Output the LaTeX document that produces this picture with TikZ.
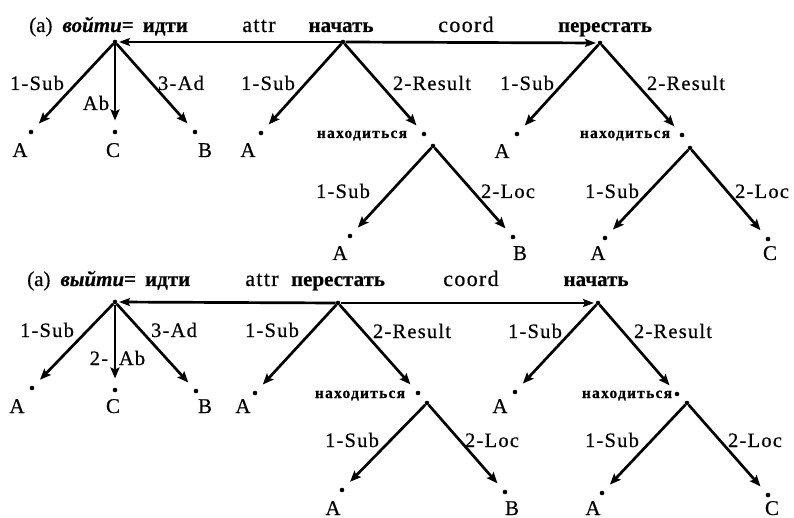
\documentclass[tikz,border=0pt]{standalone}
\usepackage{fontspec}
\setmainfont[FakeBold=0.5]{Liberation Serif}
\newfontfamily\labfont[LetterSpace=6,FakeBold=0.5]{Liberation Serif}
\newfontfamily\smallfont[LetterSpace=8,FakeBold=0.6]{Liberation Serif}
\usetikzlibrary{arrows.meta}
\tikzset{
  dot/.style={circle,fill=black,inner sep=0pt,minimum size=4.6pt},
  arr/.style={line width=2.7pt,-{Stealth[length=11pt,width=9pt,inset=2pt]},shorten >=9pt},
  harr/.style={line width=2.7pt,-{Stealth[length=11pt,width=8pt,inset=2pt]},shorten >=1.5pt},
  lab/.style={anchor=base,inner sep=0pt,font=\labfont\fontsize{20.5}{24}\selectfont},
  rel/.style={anchor=base,inner sep=0pt,font=\labfont\fontsize{22}{24}\selectfont},
  head/.style={anchor=base,inner sep=0pt,font=\fontsize{21}{24}\selectfont},
  title/.style={anchor=base west,inner sep=0pt,font=\fontsize{21}{24}\selectfont},
  bhead/.style={anchor=base,inner sep=0pt,font=\bfseries\fontsize{21}{24}\selectfont},
  small/.style={anchor=base,inner sep=0pt,font=\smallfont\bfseries\fontsize{15.5}{18}\selectfont},
}
\begin{document}
\begin{tikzpicture}[x=1pt,y=-1pt]
\useasboundingbox (0,0) rectangle (794,518);
% ---------------- top diagram ----------------
\node[dot] (r1) at (115,42) {};
\node[dot] (n1) at (343,42) {};
\node[dot] (p1) at (600,43) {};
\node[dot] (r1a) at (31,132) {};
\node[dot] (r1c) at (115,132) {};
\node[dot] (r1b) at (195,132) {};
\node[dot] (n1a) at (261,133) {};
\node[dot] (n1h) at (424,134) {};
\node[dot] (n1s) at (433,146) {};
\node[dot] (n1sa) at (350,236) {};
\node[dot] (n1sb) at (513,237) {};
\node[dot] (p1a) at (517,134) {};
\node[dot] (p1h) at (682,135) {};
\node[dot] (p1s) at (690,148) {};
\node[dot] (p1sa) at (605,238) {};
\node[dot] (p1sc) at (768,239) {};
\draw[harr] (n1) -- (r1);
\draw[harr] (n1) -- (p1);
\draw[arr] (r1) -- (r1a);
\draw[arr] (r1) -- (r1c);
\draw[arr] (r1) -- (r1b);
\draw[arr] (n1) -- (n1a);
\draw[arr] (n1) -- (n1h);
\draw[arr] (n1s) -- (n1sa);
\draw[arr] (n1s) -- (n1sb);
\draw[arr] (p1) -- (p1a);
\draw[arr] (p1) -- (p1h);
\draw[arr] (p1s) -- (p1sa);
\draw[arr] (p1s) -- (p1sc);
\node[title] (t1) at (29,32) {(a)\hspace{10pt}\textbf{\textit{войти}=\hspace{9pt}идти}};
\node[rel] (attr1) at (259,32) {attr};
\node[bhead] (nach1) at (341,32) {начать};
\node[rel] (coord1) at (466,32) {coord};
\node[bhead] (per1) at (605,32) {перестать};
\node[lab] (l1) at (37,90) {1-Sub};
\node[lab] (l2) at (96,110) {Ab};
\node[lab] (l3) at (181,90) {3-Ad};
\node[lab] (l4) at (268,90) {1-Sub};
\node[lab] (l5) at (432,90) {2-Result};
\node[lab] (l6) at (527,90) {1-Sub};
\node[lab] (l7) at (686,90) {2-Result};
\node[small] (h1) at (362,138) {находиться};
\node[small] (h2) at (625,138) {находиться};
\node[head] (a1) at (20,157) {A};
\node[head] (c1) at (113,157) {C};
\node[head] (b1) at (205,157) {B};
\node[head] (a2) at (248,157) {A};
\node[head] (a3) at (502,158) {A};
\node[lab] (l8) at (343,198) {1-Sub};
\node[lab] (l9) at (508,198) {2-Loc};
\node[lab] (l10) at (612,198) {1-Sub};
\node[lab] (l11) at (762,198) {2-Loc};
\node[head] (a4) at (340,260) {A};
\node[head] (b2) at (520,260) {B};
\node[head] (a5) at (598,260) {A};
\node[head] (c2) at (770,260) {C};
% ---------------- bottom diagram ----------------
\node[dot] (r2) at (115,302) {};
\node[dot] (pe2) at (338,303) {};
\node[dot] (na2) at (598,303) {};
\node[dot] (r2a) at (32,388) {};
\node[dot] (r2c) at (115,390) {};
\node[dot] (r2b) at (196,391) {};
\node[dot] (pe2a) at (255,393) {};
\node[dot] (pe2h) at (418,393) {};
\node[dot] (pe2s) at (427,403) {};
\node[dot] (pe2sa) at (342,490) {};
\node[dot] (pe2sb) at (505,492) {};
\node[dot] (na2a) at (515,392) {};
\node[dot] (na2h) at (677,394) {};
\node[dot] (na2s) at (687,403) {};
\node[dot] (na2sa) at (602,493) {};
\node[dot] (na2sc) at (768,495) {};
\draw[harr] (pe2) -- (r2);
\draw[harr] (pe2) -- (na2);
\draw[arr] (r2) -- (r2a);
\draw[arr] (r2) -- (r2c);
\draw[arr] (r2) -- (r2b);
\draw[arr] (pe2) -- (pe2a);
\draw[arr] (pe2) -- (pe2h);
\draw[arr] (pe2s) -- (pe2sa);
\draw[arr] (pe2s) -- (pe2sb);
\draw[arr] (na2) -- (na2a);
\draw[arr] (na2) -- (na2h);
\draw[arr] (na2s) -- (na2sa);
\draw[arr] (na2s) -- (na2sc);
\node[title] (t2) at (27,286) {(a)\hspace{10pt}\textbf{\textit{выйти}=\hspace{9pt}идти}};
\node[rel] (attr2) at (262,286) {attr};
\node[bhead] (per2) at (338,286) {перестать};
\node[rel] (coord2) at (471,286) {coord};
\node[bhead] (nach2) at (596,286) {начать};
\node[lab] (m1) at (47,337) {1-Sub};
\node[lab] (m2a) at (99,365) {2-};
\node[lab] (m2b) at (132,365) {Ab};
\node[lab] (m3) at (174,337) {3-Ad};
\node[lab] (m4) at (272,337) {1-Sub};
\node[lab] (m5) at (412,338) {2-Result};
\node[lab] (m6) at (535,338) {1-Sub};
\node[lab] (m7) at (673,338) {2-Result};
\node[small] (h3) at (360,398) {находиться};
\node[small] (h4) at (627,398) {находиться};
\node[head] (a6) at (17,413) {A};
\node[head] (c3) at (113,413) {C};
\node[head] (b3) at (205,413) {B};
\node[head] (a7) at (243,413) {A};
\node[head] (a8) at (500,413) {A};
\node[lab] (m8) at (352,447) {1-Sub};
\node[lab] (m9) at (492,447) {2-Loc};
\node[lab] (m10) at (612,447) {1-Sub};
\node[lab] (m11) at (755,447) {2-Loc};
\node[head] (a9) at (333,515) {A};
\node[head] (b4) at (512,515) {B};
\node[head] (a10) at (593,515) {A};
\node[head] (c4) at (772,515) {C};
\end{tikzpicture}
\end{document}
